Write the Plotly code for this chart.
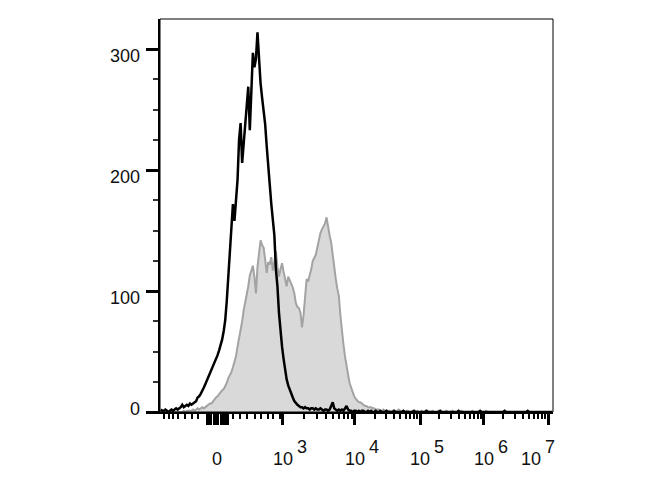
import plotly.graph_objects as go

# ---------------- data (display channel scale 0..1024, 256 bins of 4 channels) ----------------
n_bins = 256
bin_width = 4
channels = [i * bin_width + bin_width / 2 for i in range(n_bins)]

# black outline histogram (control)
control_counts = [
    2, 1, 1, 2, 1, 0, 1, 2, 1, 2,
    3, 2, 3, 4, 6, 4, 5, 6, 5, 7,
    6, 7, 8, 9, 12, 13, 15, 17, 20, 23,
    26, 29, 31, 35, 37, 41, 44, 47, 51, 55,
    60, 67, 76, 92, 110, 128, 150, 172, 158, 180,
    192, 225, 239, 206, 222, 238, 252, 269, 233, 262,
    297, 285, 292, 314, 290, 272, 260, 250, 238, 220,
    200, 188, 172, 160, 146, 118, 104, 82, 65, 54,
    44, 34, 27, 22, 18, 14, 12, 9, 7, 6,
    5, 4, 4, 3, 4, 3, 3, 2, 3, 3,
    2, 3, 2, 2, 3, 2, 1, 2, 2, 1,
    2, 5, 8, 3, 2, 1, 2, 1, 2, 1,
    3, 5, 2, 1, 1, 0, 1, 1, 0,
    1, 0, 1, 1, 0, 0, 1, 0, 1, 0, 0, 1,
    0, 0, 1, 0, 0, 0, 1, 0, 0, 0, 0, 1, 0, 0, 0, 0, 0, 1, 0, 0,
    0, 0, 0, 0, 1, 0, 0, 0, 0, 0, 0, 0, 1, 0, 0, 0, 0, 0, 0, 0,
    0, 1, 0, 0, 0, 0, 0, 0, 0, 0, 0, 0, 0, 1, 0, 0, 0, 0, 0, 0,
    0, 0, 0, 0, 0, 0, 0, 1, 0, 0, 0, 0, 0, 0, 0, 0, 0, 0, 0, 0,
    0, 0, 0, 1, 0, 0, 0, 0, 0, 0, 0, 0, 0, 0, 0, 0, 0, 0, 1, 0,
    0, 0, 0, 0, 0, 0, 0, 0, 0, 0, 0, 0, 0, 0, 0,
]

# gray filled histogram (stained)
stained_counts = [
    0, 0, 0, 0, 0, 0, 0, 0, 0, 0,
    0, 0, 0, 0, 0, 1, 0, 1,
    1, 1, 1, 2, 1, 2, 3, 2, 3, 4, 3, 4,
    5, 6, 7, 7, 9, 10, 12, 13, 15, 16,
    18, 19, 21, 24, 28, 30, 33, 37, 41, 46,
    54, 60, 66, 75, 84, 90, 96, 104, 113, 118,
    121, 112, 98, 120, 132, 142, 138, 136, 126, 115,
    124, 122, 128, 117, 124, 133, 120, 112, 118, 123,
    116, 110, 104, 112, 109, 106, 103, 98, 90, 87,
    86, 82, 70, 80, 95, 110, 108, 112, 118, 125,
    127, 130, 136, 142, 148, 151, 154, 156, 161, 152,
    146, 140, 130, 116, 110, 102, 96, 80, 66, 56,
    46, 37, 31, 24, 20, 16, 13, 11, 9, 8,
    8, 7, 6, 5, 5, 4, 4, 4, 3, 3,
    2, 2, 2, 1, 1, 2, 1, 1,
    1, 1, 0, 1, 1, 0, 1, 2, 1, 0, 1, 0, 1, 1, 0, 0, 1, 0, 0, 1,
    0, 0, 1, 0, 0, 1, 1, 0, 0, 1, 0, 0, 0, 1, 0, 0, 0, 0, 1, 0,
    0, 0, 1, 0, 0, 0, 0, 0, 1, 0, 0, 0, 0, 0, 0, 1, 0, 0, 0, 0,
    0, 0, 0, 0, 1, 0, 0, 0, 0, 0, 0, 0, 0, 0, 0, 0, 1, 0, 0, 0,
    0, 0, 0, 0, 0, 0, 0, 0, 0, 0, 0, 0, 0, 0, 0, 0, 0, 0, 0, 0,
    0, 0, 0, 0, 0, 0, 0, 0,
]

# x axis: labelled decades (channel positions) and their labels
x_tick_vals = [149, 320, 508, 678, 844, 1011]
x_tick_labels = ["0", "10^3", "10^4", "10^5", "10^6", "10^7"]
# long ticks around zero (linear region)
x_zero_block = [124, 132, 141, 149, 159, 168, 175]
# short (minor) ticks
x_minor_vals = [
    10, 24, 34, 47, 65, 83, 99,
    190, 208, 227, 247, 263, 281, 294, 313,
    376, 410, 433, 451, 466, 479, 490, 499,
    559, 589, 610, 626, 640, 651, 661, 670,
    728, 757, 778, 794, 807, 818, 828, 837,
    895, 924, 945, 961, 974, 985, 995, 1003,
]

# y axis
y_tick_vals = [0, 100, 200, 300]
y_tick_labels = ["0", "100", "200", "300"]
y_minor_vals = [25, 50, 75, 125, 150, 175, 225, 250, 275]

FONT = "Arial, Liberation Sans, sans-serif"

fig = go.Figure()
fig.add_trace(go.Scatter(
    x=channels, y=stained_counts, mode="lines",
    line=dict(color="#a3a3a3", width=2),
    fill="tozeroy", fillcolor="#d9d9d9", hoverinfo="skip",
))
fig.add_trace(go.Scatter(
    x=channels, y=control_counts, mode="lines",
    line=dict(color="black", width=2.5), hoverinfo="skip",
))

fig.update_layout(
    width=662, height=492,
    margin=dict(l=152, r=117, t=11, b=88),
    paper_bgcolor="white", plot_bgcolor="white",
    showlegend=False,
    font=dict(family=FONT, size=18, color="black"),
    xaxis=dict(
        range=[0, 1024], showgrid=False, zeroline=False,
        showline=True, linecolor="black", linewidth=2,
        tickmode="array", tickvals=x_zero_block + x_tick_vals[1:],
        ticks="outside", ticklen=11, tickwidth=2.5, tickcolor="black",
        showticklabels=False,
        minor=dict(tickmode="array", tickvals=x_minor_vals, ticks="outside",
                   ticklen=5, tickwidth=2, tickcolor="black", showgrid=False),
    ),
    yaxis=dict(
        range=[0, 325], showgrid=False, zeroline=False,
        showline=True, linecolor="black", linewidth=2,
        tickmode="array", tickvals=y_tick_vals,
        ticks="outside", ticklen=12, tickwidth=2.5, tickcolor="black",
        showticklabels=False,
        minor=dict(tickmode="array", tickvals=y_minor_vals, ticks="outside",
                   ticklen=5, tickwidth=1.5, tickcolor="#333333", showgrid=False),
    ),
    shapes=[dict(type="rect", xref="paper", yref="paper", x0=0, x1=1, y0=0, y1=1,
                 line=dict(color="black", width=1), layer="above")],
)

annotations = []
for v, lab in zip(y_tick_vals, y_tick_labels):
    annotations.append(dict(
        text=lab, xref="paper", x=0, xanchor="right", xshift=-19,
        yref="y", y=v, yanchor="middle", yshift=(3 if v == 0 else -7),
        showarrow=False, borderpad=0, font=dict(family=FONT, size=18, color="#111111"),
    ))
for v, lab in zip(x_tick_vals, x_tick_labels):
    shift = -17 if lab == "10^7" else 0
    if "^" in lab:
        base, exp = lab.split("^")
        annotations.append(dict(
            text=base, xref="x", x=v, xanchor="center", xshift=shift,
            yref="paper", y=0, yanchor="middle", yshift=-47,
            showarrow=False, borderpad=0, font=dict(family=FONT, size=18, color="#111111"),
        ))
        annotations.append(dict(
            text=exp, xref="x", x=v, xanchor="left", xshift=shift + 13,
            yref="paper", y=0, yanchor="middle", yshift=-35,
            showarrow=False, borderpad=0, font=dict(family=FONT, size=18, color="#111111"),
        ))
    else:
        annotations.append(dict(
            text=lab, xref="x", x=v, xanchor="center", xshift=shift,
            yref="paper", y=0, yanchor="middle", yshift=-47,
            showarrow=False, borderpad=0, font=dict(family=FONT, size=18, color="#111111"),
        ))
fig.update_layout(annotations=annotations)

fig.write_html("out.html")
